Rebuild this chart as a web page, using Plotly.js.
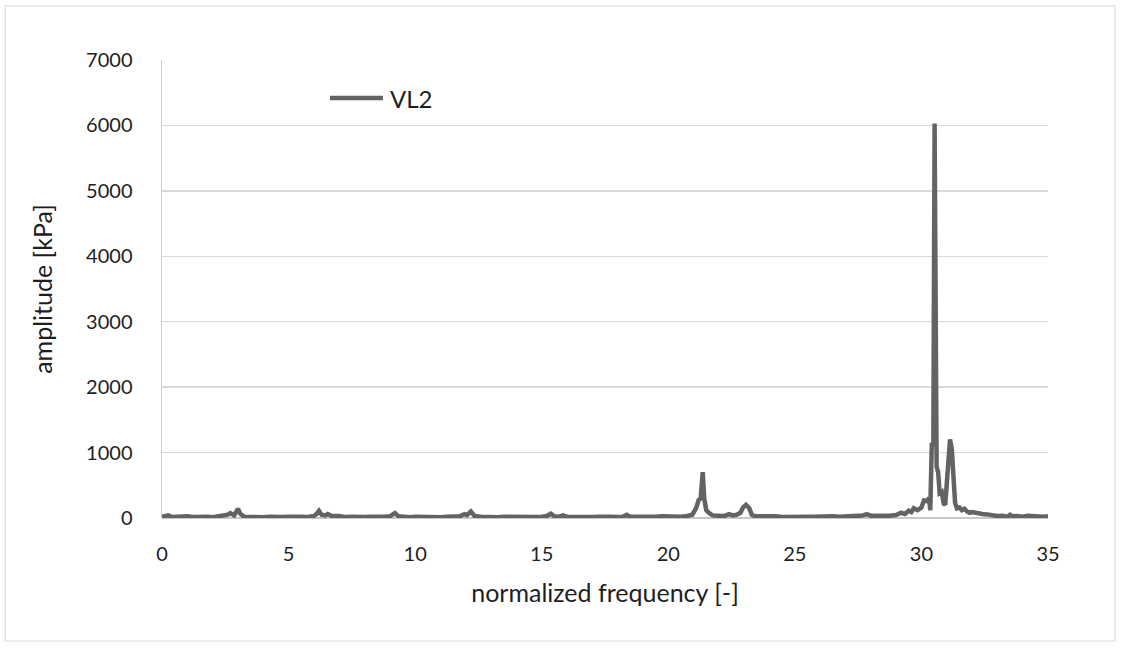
<!DOCTYPE html>
<html>
<head>
<meta charset="utf-8">
<script src="https://cdn.plot.ly/plotly-3.0.1.min.js"></script>
<style>html,body{margin:0;padding:0;background:#fff;}#chart{width:1121px;height:648px;}</style>
</head>
<body>
<div id="chart"></div>
<script>
var seriesName = "VL2";
var freq = [0.0,0.1,0.25,0.4,0.6,0.8,1.0,1.2,1.4,1.6,1.8,2.0,2.2,2.4,2.6,2.7,2.85,3.0,3.1,3.25,3.5,3.75,4.0,4.25,4.5,4.75,5.0,5.25,5.5,5.75,6.0,6.1,6.2,6.3,6.45,6.55,6.7,7.0,7.2,7.5,7.75,8.0,8.25,8.5,8.75,9.0,9.2,9.35,9.6,9.8,10.0,10.25,10.5,10.75,11.0,11.25,11.5,11.75,11.95,12.05,12.2,12.35,12.6,12.8,13.0,13.25,13.5,13.75,14.0,14.25,14.5,14.75,15.0,15.2,15.36,15.5,15.7,15.84,16.0,16.25,16.5,16.75,17.0,17.25,17.5,17.75,18.0,18.2,18.36,18.5,18.75,19.0,19.25,19.5,19.75,20.0,20.25,20.5,20.75,20.95,21.1,21.2,21.28,21.36,21.42,21.5,21.6,21.75,22.0,22.2,22.4,22.55,22.7,22.85,22.95,23.07,23.2,23.3,23.45,23.7,24.0,24.25,24.5,24.75,25.0,25.25,25.5,25.75,26.0,26.25,26.5,26.75,27.0,27.25,27.5,27.7,27.84,28.0,28.25,28.5,28.75,29.0,29.2,29.35,29.5,29.6,29.7,29.85,30.0,30.1,30.2,30.3,30.35,30.41,30.47,30.52,30.56,30.6,30.66,30.72,30.8,30.88,30.94,31.0,31.06,31.13,31.2,31.28,31.33,31.4,31.5,31.6,31.7,31.8,31.9,32.0,32.2,32.4,32.6,32.8,33.0,33.2,33.4,33.5,33.6,33.8,34.0,34.2,34.4,34.6,34.8,35.0];
var amplitude = [20,35,40,15,20,10,25,15,20,10,18,12,20,25,50,75,40,140,60,20,15,20,12,18,10,15,20,12,18,15,30,60,110,50,40,60,35,30,15,18,10,15,20,12,18,25,75,25,15,10,18,12,20,15,10,18,15,25,60,45,100,30,20,15,20,12,18,15,20,10,18,15,20,30,65,25,20,40,20,15,18,10,15,20,12,18,15,20,50,18,20,15,22,18,25,20,25,20,30,50,150,275,300,700,300,120,80,40,35,30,60,40,50,80,160,200,150,50,25,30,20,25,15,20,25,15,20,18,25,20,25,20,30,25,35,40,60,35,30,40,35,45,80,60,110,90,150,120,160,270,260,300,120,1150,1100,6030,2000,780,700,380,400,220,200,500,1000,1200,1050,400,230,150,160,120,140,100,80,90,70,60,55,40,30,35,20,50,25,30,20,35,25,30,20,25];
var xTicks = [0,5,10,15,20,25,30,35];
var yTicks = [0,1000,2000,3000,4000,5000,6000,7000];
var xTitle = "normalized frequency [-]";
var yTitle = "amplitude [kPa]";

var fontFam = "Lato, 'Open Sans', sans-serif";
var lineColor = "#636363";
var trace = {
  x: freq, y: amplitude, type: "scatter", mode: "lines", name: seriesName,
  line: {color: lineColor, width: 4.5}, showlegend: false
};
var layout = {
  width: 1121, height: 648,
  margin: {l: 162, r: 73, t: 60, b: 130},
  paper_bgcolor: "#fff", plot_bgcolor: "#fff",
  font: {family: fontFam, size: 20, color: "#1e1e1e"},
  showlegend: false,
  xaxis: {
    range: [0, 35], tickvals: xTicks, ticktext: xTicks.map(String),
    showgrid: false, zeroline: false, showline: false, ticks: "",
    ticklabelstandoff: 22, tickfont: {size: 20},
    title: {text: xTitle, standoff: 20, font: {size: 25}}
  },
  yaxis: {
    range: [0, 7000], tickvals: yTicks, ticktext: yTicks.map(String),
    showgrid: true, gridcolor: "#d9d9d9", gridwidth: 1.3,
    zeroline: true, zerolinecolor: "#c8c8c8", zerolinewidth: 1.5,
    showline: true, linecolor: "#d0d0d0", linewidth: 1.5, ticks: "",
    ticklabelstandoff: 24, tickfont: {size: 20},
    title: {text: yTitle, standoff: 26, font: {size: 25}}
  },
  shapes: [{
    type: "rect", xref: "paper", yref: "paper",
    x0: -0.177, x1: 1.0756, y0: -0.2686, y1: 1.118,
    line: {color: "#d9d9d9", width: 1}, fillcolor: "rgba(0,0,0,0)", layer: "below"
  }, {
    type: "line", xref: "paper", yref: "paper",
    x0: 0.1896, x1: 0.2494, y0: 0.917, y1: 0.917,
    line: {color: lineColor, width: 4.5}
  }],
  annotations: [{
    text: seriesName, xref: "paper", yref: "paper", x: 0.2551, y: 0.917,
    xanchor: "left", yanchor: "middle", showarrow: false,
    font: {size: 24, color: "#1e1e1e"}
  }]
};
Plotly.newPlot("chart", [trace], layout, {displayModeBar: false, staticPlot: true});
</script>
</body>
</html>
